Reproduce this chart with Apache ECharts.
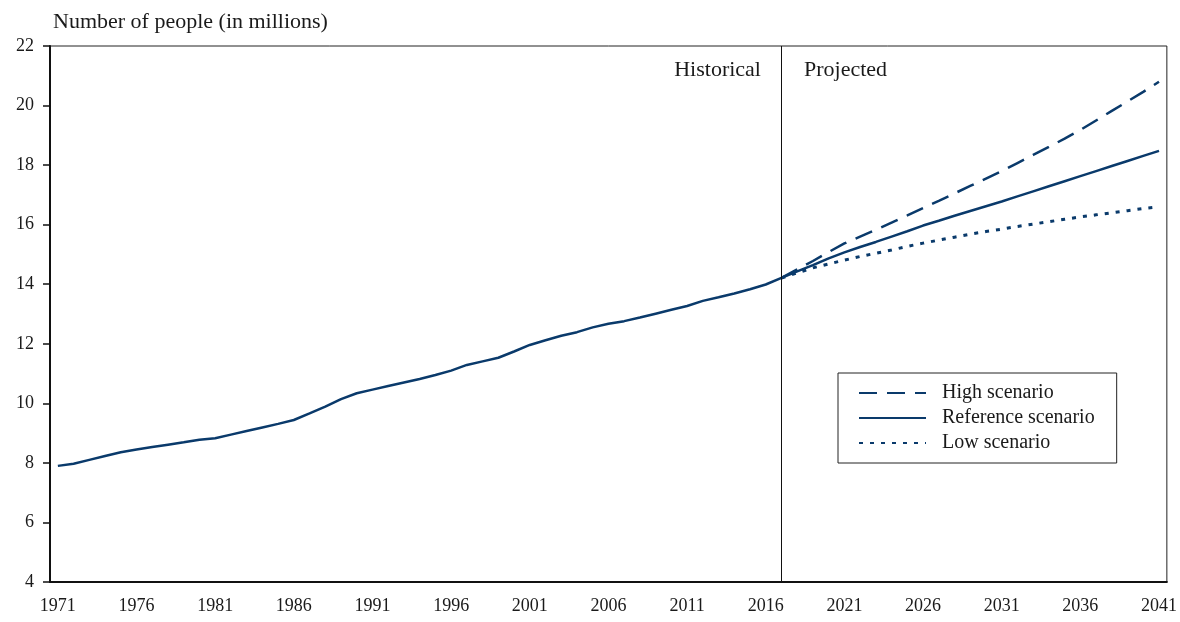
<!DOCTYPE html>
<html>
<head>
<meta charset="utf-8">
<script src="https://cdn.jsdelivr.net/npm/echarts@6/dist/echarts.min.js"></script>
<style>
html,body{margin:0;padding:0;background:#fff;}
#chart{width:1180px;height:622px;}
</style>
</head>
<body>
<div id="chart"></div>
<script>
// Years 1971–2041
const years = [];
for (let y = 1971; y <= 2041; y++) years.push(String(y));

// Historical values 1971–2017 (millions)
const historical = [
  7.90, 7.97, 8.10, 8.23, 8.36, 8.45, 8.53, 8.61, 8.69, 8.78,
  8.83, 8.95, 9.07, 9.19, 9.31, 9.44, 9.66, 9.89, 10.14, 10.34,
  10.46, 10.58, 10.70, 10.82, 10.95, 11.10, 11.29, 11.41, 11.53, 11.74,
  11.96, 12.12, 12.27, 12.39, 12.55, 12.67, 12.76, 12.88, 13.01, 13.14,
  13.27, 13.44, 13.56, 13.69, 13.83, 13.99, 14.21
];

// Projections 2017–2041
const referenceProj = [
  14.21, 14.43, 14.64, 14.87, 15.07, 15.25, 15.42, 15.60, 15.78, 15.97,
  16.13, 16.30, 16.46, 16.62, 16.78, 16.95, 17.12, 17.29, 17.46, 17.63,
  17.80, 17.97, 18.14, 18.31, 18.48
];
const highProj = [
  14.21, 14.50, 14.78, 15.08, 15.37, 15.60, 15.83, 16.07, 16.31, 16.56,
  16.80, 17.05, 17.30, 17.55, 17.80, 18.07, 18.34, 18.61, 18.89, 19.18,
  19.50, 19.82, 20.14, 20.46, 20.80
];
const lowProj = [
  14.21, 14.38, 14.55, 14.68, 14.81, 14.93, 15.04, 15.15, 15.27, 15.38,
  15.48, 15.58, 15.68, 15.77, 15.85, 15.94, 16.02, 16.10, 16.18, 16.26,
  16.33, 16.40, 16.47, 16.54, 16.60
];

const yTicks = { min: 4, max: 22, interval: 2 };
const splitYear = '2017';

const pad = new Array(historical.length - 1).fill(null);
const refSeries = historical.concat(referenceProj.slice(1));
const highSeries = pad.concat(highProj);
const lowSeries = pad.concat(lowProj);

const navy = '#0a3a6b';
const font = '"Liberation Serif", "Times New Roman", serif';
const txt = '#1a1a1a';

const chart = echarts.init(document.getElementById('chart'));
chart.setOption({
  animation: false,
  backgroundColor: '#fff',
  textStyle: { fontFamily: font, color: txt },
  title: {
    text: 'Number of people (in millions)',
    left: 48, top: 6,
    textStyle: { fontFamily: font, fontSize: 22, fontWeight: 'normal', color: txt }
  },
  grid: {
    left: 50, right: 13, top: 46, bottom: 40,
    show: true, borderColor: '#222', borderWidth: 1, backgroundColor: 'transparent'
  },
  legend: {
    orient: 'vertical',
    left: 838, top: 373,
    data: ['High scenario', 'Reference scenario', 'Low scenario'],
    itemWidth: 67, itemHeight: 14, itemGap: 5,
    padding: [10, 22, 10, 20],
    borderColor: '#222', borderWidth: 1,
    itemStyle: { opacity: 0 },
    textStyle: { fontFamily: font, fontSize: 20, color: txt, padding: [0, 0, 0, 11] }
  },
  xAxis: {
    type: 'category',
    data: years,
    boundaryGap: true,
    axisLine: { lineStyle: { color: '#111', width: 2 } },
    axisTick: { interval: 0, length: 6, lineStyle: { color: '#111', width: 1.5 } },
    axisLabel: { interval: 4, margin: 15, fontFamily: font, fontSize: 18, color: txt },
    splitLine: { show: false }
  },
  yAxis: {
    type: 'value',
    min: yTicks.min, max: yTicks.max, interval: yTicks.interval,
    axisLine: { show: true, lineStyle: { color: '#111', width: 2 } },
    axisTick: { show: true, length: 7, lineStyle: { color: '#111', width: 1.5 } },
    axisLabel: { margin: 16, fontFamily: font, fontSize: 18, color: txt },
    splitLine: { show: false }
  },
  series: [
    {
      name: 'High scenario', type: 'line', data: highSeries,
      symbol: 'none', connectNulls: false,
      lineStyle: { color: navy, width: 2.5, type: [18, 10] },
      itemStyle: { color: navy }
    },
    {
      name: 'Reference scenario', type: 'line', data: refSeries,
      symbol: 'none',
      lineStyle: { color: navy, width: 2.5, type: 'solid' },
      itemStyle: { color: navy },
      markLine: {
        silent: true, symbol: 'none',
        label: { show: false },
        lineStyle: { color: '#111', width: 1, type: 'solid' },
        data: [{ xAxis: splitYear }]
      },
      markPoint: {
        silent: true,
        symbol: 'circle', symbolSize: 1,
        itemStyle: { color: 'rgba(0,0,0,0)' },
        data: [
          { coord: [splitYear, 21.2], label: { show: true, formatter: 'Historical', position: 'left', distance: 20, fontFamily: font, fontSize: 22, color: txt } },
          { coord: [splitYear, 21.2], label: { show: true, formatter: 'Projected', position: 'right', distance: 22, fontFamily: font, fontSize: 22, color: txt } }
        ]
      }
    },
    {
      name: 'Low scenario', type: 'line', data: lowSeries,
      symbol: 'none',
      lineStyle: { color: navy, width: 3, type: [4, 7] },
      itemStyle: { color: navy }
    }
  ]
});
</script>
</body>
</html>
